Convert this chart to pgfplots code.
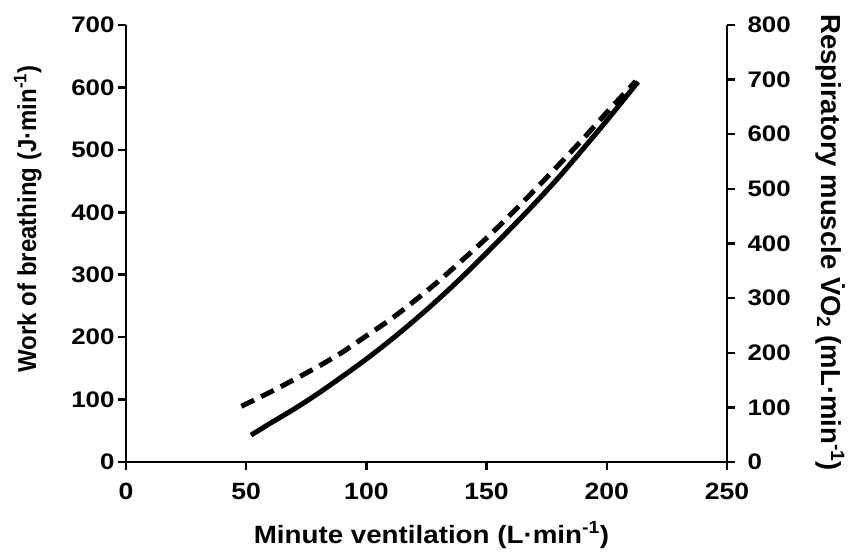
\documentclass[border=0pt]{standalone}
\usepackage{pgfplots}
\pgfplotsset{compat=1.18}
\usepackage{fontspec}
\setmainfont{Liberation Sans}
\begin{document}
\begin{tikzpicture}
\pgfplotsset{
  common/.style={
    scale only axis, width=601pt, height=437pt,
    xmin=0, xmax=250,
    tick align=outside, major tick length=8pt,
    every tick/.style={black, line width=2.5pt},
    axis line style={line width=2.8pt, -},
    tick label style={font=\fontsize{22.5}{22.5}\selectfont\bfseries},
    yticklabel={\scalebox{1.15}[1]{\pgfmathprintnumber{\tick}}},
    /pgf/number format/assume math mode=true,
    clip=false,
  }
}
\begin{axis}[common, name=main,
  axis x line*=bottom, axis y line*=left,
  ymin=0, ymax=700, ytick={0,100,...,700},
  xtick={0,50,...,250},
  xticklabel={\scalebox{1.13}[1]{\pgfmathprintnumber{\tick}}},
  xticklabel style={font=\fontsize{23.5}{23.5}\selectfont\bfseries, yshift=-10pt},
  xlabel={\scalebox{1.11}[1]{Minute ventilation (L·min\textsuperscript{-1})}},
  ylabel={\scalebox{1}[1.08]{Work of breathing (J·min\textsuperscript{-1})}},
  xlabel style={font=\fontsize{25}{25}\selectfont\bfseries, at={(axis description cs:0.5083,-0.1854)}, anchor=base},
  ylabel style={font=\fontsize{24}{24}\selectfont\bfseries, at={(axis description cs:-0.1497,0.556)}, anchor=base},
]
\addplot[black, line width=5pt, smooth] coordinates {
(52,43) (60,62) (70,85) (80,110) (90,137) (100,165) (110,195) (120,227)
(130,261) (140,297) (150,335) (160,374) (170,414) (180,456) (190,501)
(200,547) (213,609)};
\end{axis}
\begin{axis}[common,
  axis x line=none, axis y line*=right,
  ymin=0, ymax=800, ytick={0,100,...,800},
  yticklabel style={xshift=9pt},
  ylabel={Respiratory muscle \.{V}O\textsubscript{2} (mL·min\textsuperscript{-1})},
  ylabel style={font=\fontsize{27.5}{27.5}\selectfont\bfseries, rotate=180, at={(axis description cs:1.158,0.502)}, anchor=base},
]
\addplot[black, line width=5pt, smooth, dash pattern=on 14pt off 8pt] coordinates {
(48,102) (60,128) (70,151) (80,175) (90,201) (100,231) (110,261) (120,295)
(130,331) (140,370) (150,410) (160,453) (170,498) (180,544) (190,591)
(200,640) (212,697)};
\end{axis}
\path (-126pt,-88pt) rectangle (724pt,462pt);
\end{tikzpicture}
\end{document}
